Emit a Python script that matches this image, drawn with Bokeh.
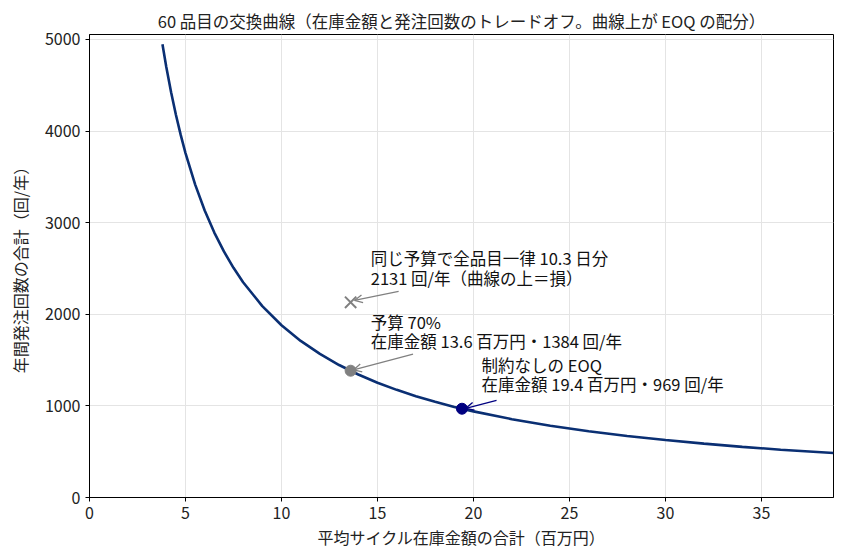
from bokeh.plotting import figure
from bokeh.models import Range1d, Label, Arrow, OpenHead, FixedTicker
from bokeh.embed import file_html
from bokeh.resources import INLINE

# exchange curve (inventory in million yen, orders per year)
curve_x = [3.8, 4.0, 4.25, 4.5, 4.75, 5.0, 5.5, 6.0, 6.5, 7.0, 7.5, 8.0, 9.0, 10.0, 11.0, 12.0,
           13.0, 14.0, 15.0, 16.0, 17.0, 18.0, 19.0, 20.0, 22.0, 24.0, 26.0, 28.0, 30.0,
           32.0, 34.0, 36.0, 38.75]
curve_y = [4947, 4700, 4424, 4178, 3958, 3760, 3418, 3133, 2892, 2686, 2507, 2350, 2089, 1880,
           1709, 1567, 1446, 1343, 1253, 1175, 1106, 1044, 989, 940, 855, 783, 723, 671, 627,
           588, 553, 522, 485]

eoq_x, eoq_y = 19.4, 969
b70_x, b70_y = 13.6, 1384
flat_x, flat_y = 13.6, 2131

x_ticks = [0, 5, 10, 15, 20, 25, 30, 35]
y_ticks = [0, 1000, 2000, 3000, 4000, 5000]

FONT = "Noto Sans CJK JP"

p = figure(width=836, height=551, output_backend="svg", toolbar_location=None,
           x_range=Range1d(0, 38.75), y_range=Range1d(0, 5054),
           min_border_left=89, min_border_right=3, min_border_top=34, min_border_bottom=54)
p.title.text = "60 品目の交換曲線（在庫金額と発注回数のトレードオフ。曲線上が EOQ の配分）"
p.title.align = "center"
p.title.text_font = FONT
p.title.text_font_size = "16.5px"
p.title.text_font_style = "normal"
p.title.text_color = "#222222"
p.title.standoff = 4

p.outline_line_color = "black"
p.outline_line_width = 1
p.outline_line_alpha = 1

for ax in (p.xaxis, p.yaxis):
    ax.axis_line_color = "black"
    ax.major_tick_line_color = "black"
    ax.major_tick_out = 4
    ax.major_tick_in = 0
    ax.minor_tick_line_color = None
    ax.major_label_text_font = FONT
    ax.major_label_text_font_size = "16px"
    ax.major_label_text_color = "#222222"
    ax.axis_label_text_font = FONT
    ax.axis_label_text_font_size = "16px"
    ax.axis_label_text_font_style = "normal"
    ax.axis_label_text_color = "#222222"

p.xaxis.ticker = FixedTicker(ticks=x_ticks)
p.yaxis.ticker = FixedTicker(ticks=y_ticks)
p.xaxis.axis_label = "平均サイクル在庫金額の合計（百万円）"
p.yaxis.axis_label = "年間発注回数の合計（回/年）"
p.xaxis.axis_label_standoff = 3
p.yaxis.axis_label_standoff = 10

p.xgrid.grid_line_color = "#e4e4e4"
p.ygrid.grid_line_color = "#e4e4e4"

p.line(curve_x, curve_y, line_color="#0a2f73", line_width=2.6)

p.scatter([flat_x], [flat_y], marker="x", size=16, line_color="#808080", line_width=2)
p.scatter([b70_x], [b70_y], marker="circle", size=11, fill_color="#808080", line_color="#808080")
p.scatter([eoq_x], [eoq_y], marker="circle", size=11, fill_color="#000080", line_color="#000080")

# arrows from the notes to the points
p.add_layout(Arrow(end=OpenHead(size=8, line_color="#808080", line_width=1.3),
                   x_start=flat_x + 2.5, y_start=flat_y + 120, x_end=flat_x + 0.2, y_end=flat_y + 20,
                   line_color="#808080", line_width=1.3))
p.add_layout(Arrow(end=OpenHead(size=8, line_color="#808080", line_width=1.3),
                   x_start=b70_x + 3.25, y_start=b70_y + 180, x_end=b70_x + 0.15, y_end=b70_y + 8,
                   line_color="#808080", line_width=1.3))
p.add_layout(Arrow(end=OpenHead(size=8, line_color="#000080", line_width=1.3),
                   x_start=eoq_x + 1.8, y_start=eoq_y + 90, x_end=eoq_x + 0.2, y_end=eoq_y + 5,
                   line_color="#000080", line_width=1.3))

notes = [
    (flat_x + 1.05, flat_y + 610, "同じ予算で全品目一律 10.3 日分\n2131 回/年（曲線の上＝損）"),
    (b70_x + 1.05, b70_y + 660, "予算 70%\n在庫金額 13.6 百万円・1384 回/年"),
    (eoq_x + 1.02, eoq_y + 610, "制約なしの EOQ\n在庫金額 19.4 百万円・969 回/年"),
]
for nx, ny, txt in notes:
    p.add_layout(Label(x=nx, y=ny, text=txt, text_font=FONT, text_font_size="16.5px",
                       text_baseline="top", text_align="left", text_color="#111111",
                       text_line_height=0.8))

open("out.html", "w").write(file_html(p, INLINE))
